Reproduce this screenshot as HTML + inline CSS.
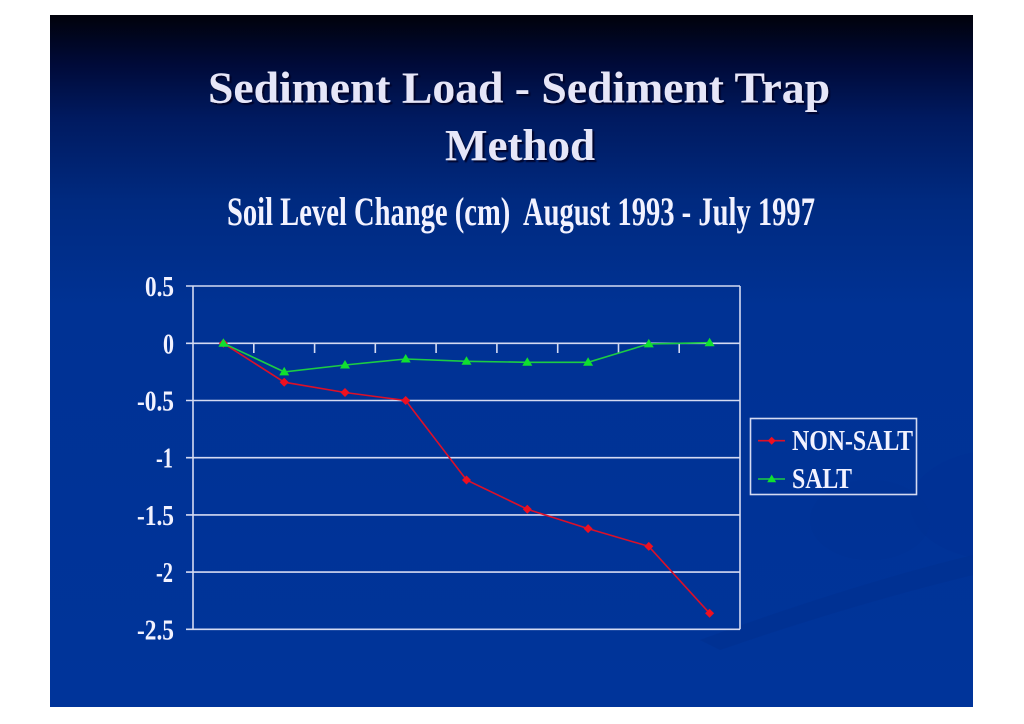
<!DOCTYPE html>
<html>
<head>
<meta charset="utf-8">
<style>
html,body{margin:0;padding:0;background:#ffffff;}
svg{display:block;}
</style>
</head>
<body>
<svg width="1024" height="724" viewBox="0 0 1024 724" xmlns="http://www.w3.org/2000/svg">
  <defs>
    <linearGradient id="bg" x1="0" y1="15" x2="0" y2="707" gradientUnits="userSpaceOnUse">
      <stop offset="0" stop-color="#01020b"/>
      <stop offset="0.07" stop-color="#000a38"/>
      <stop offset="0.15" stop-color="#001a60"/>
      <stop offset="0.27" stop-color="#002a80"/>
      <stop offset="0.42" stop-color="#003294"/>
      <stop offset="1" stop-color="#00349a"/>
    </linearGradient>
    <clipPath id="slideclip">
      <rect x="50" y="15" width="923" height="692"/>
    </clipPath>
    <filter id="sh" x="-5%" y="-20%" width="110%" height="140%">
      <feDropShadow dx="2" dy="2" stdDeviation="0.6" flood-color="#050520" flood-opacity="0.9"/>
    </filter>
  </defs>

  <!-- slide -->
  <rect x="50" y="15" width="923" height="692" fill="url(#bg)"/>
  <!-- subtle swooshes -->
  <g clip-path="url(#slideclip)">
    <path d="M700 640 Q850 585 973 555 L973 575 Q850 605 720 650 Z" fill="#00308f" opacity="0.6"/>
    <ellipse cx="1000" cy="505" rx="90" ry="55" fill="#003194" opacity="0.6"/>
    <ellipse cx="870" cy="520" rx="60" ry="40" fill="#003194" opacity="0.5"/>
  </g>

  <!-- titles -->
  <g font-family="'Liberation Serif', serif" font-weight="bold" fill="#e6e6f8" filter="url(#sh)">
    <text x="208" y="102.5" font-size="44" textLength="622" lengthAdjust="spacingAndGlyphs">Sediment Load - Sediment Trap</text>
    <text x="445" y="160" font-size="44" textLength="150" lengthAdjust="spacingAndGlyphs">Method</text>
  </g>
  <text x="227" y="225" font-family="'Liberation Serif', serif" font-weight="bold" font-size="40" fill="#f2f2ff" xml:space="preserve" textLength="588" lengthAdjust="spacingAndGlyphs">Soil Level Change (cm)  August 1993 - July 1997</text>

  <!-- plot area grid/axes -->
  <g stroke="#d4daf2" stroke-width="1.6" fill="none">
    <line x1="186" y1="286" x2="740" y2="286"/>
    <line x1="186" y1="343.3" x2="740" y2="343.3"/>
    <line x1="186" y1="400.5" x2="740" y2="400.5"/>
    <line x1="186" y1="457.7" x2="740" y2="457.7"/>
    <line x1="186" y1="514.9" x2="740" y2="514.9"/>
    <line x1="186" y1="572.1" x2="740" y2="572.1"/>
    <line x1="186" y1="629.3" x2="740" y2="629.3"/>
    <line x1="193" y1="286" x2="193" y2="629.3"/>
    <line x1="740" y1="286" x2="740" y2="629.3"/>
    <!-- category ticks -->
    <line x1="253.8" y1="343.3" x2="253.8" y2="353"/>
    <line x1="314.6" y1="343.3" x2="314.6" y2="353"/>
    <line x1="375.3" y1="343.3" x2="375.3" y2="353"/>
    <line x1="436.1" y1="343.3" x2="436.1" y2="353"/>
    <line x1="496.9" y1="343.3" x2="496.9" y2="353"/>
    <line x1="557.7" y1="343.3" x2="557.7" y2="353"/>
    <line x1="618.5" y1="343.3" x2="618.5" y2="353"/>
    <line x1="679.2" y1="343.3" x2="679.2" y2="353"/>
  </g>

  <!-- y labels -->
  <g font-family="'Liberation Serif', serif" font-weight="bold" font-size="28" fill="#f2f2ff" text-anchor="end">
    <text x="174" y="296" textLength="29" lengthAdjust="spacingAndGlyphs">0.5</text>
    <text x="174" y="353.3" textLength="11" lengthAdjust="spacingAndGlyphs">0</text>
    <text x="174" y="410.5" textLength="37" lengthAdjust="spacingAndGlyphs">-0.5</text>
    <text x="173" y="467.7" textLength="17" lengthAdjust="spacingAndGlyphs">-1</text>
    <text x="174" y="524.9" textLength="37" lengthAdjust="spacingAndGlyphs">-1.5</text>
    <text x="173" y="582.1" textLength="17" lengthAdjust="spacingAndGlyphs">-2</text>
    <text x="174" y="639.3" textLength="37" lengthAdjust="spacingAndGlyphs">-2.5</text>
  </g>

  <!-- NON-SALT series -->
  <polyline fill="none" stroke="#dc1028" stroke-width="1.6"
    points="223.4,343.3 284.2,382.2 345.0,392.5 405.7,400.5 466.5,480.0 527.3,509.2 588.1,528.6 648.8,546.4 709.6,613.3"/>
  <g fill="#ee1020">
    <path d="M223.4 338.8 L227.9 343.3 L223.4 347.8 L218.9 343.3 Z"/>
    <path d="M284.2 377.7 L288.7 382.2 L284.2 386.7 L279.7 382.2 Z"/>
    <path d="M345.0 388.0 L349.5 392.5 L345.0 397.0 L340.5 392.5 Z"/>
    <path d="M405.7 396.0 L410.2 400.5 L405.7 405.0 L401.2 400.5 Z"/>
    <path d="M466.5 475.5 L471.0 480.0 L466.5 484.5 L462.0 480.0 Z"/>
    <path d="M527.3 504.7 L531.8 509.2 L527.3 513.7 L522.8 509.2 Z"/>
    <path d="M588.1 524.1 L592.6 528.6 L588.1 533.1 L583.6 528.6 Z"/>
    <path d="M648.8 541.9 L653.3 546.4 L648.8 550.9 L644.3 546.4 Z"/>
    <path d="M709.6 608.8 L714.1 613.3 L709.6 617.8 L705.1 613.3 Z"/>
  </g>

  <!-- SALT series -->
  <polyline fill="none" stroke="#1ccc44" stroke-width="1.6"
    points="223.4,343.3 284.2,371.9 345.0,365.0 405.7,359.0 466.5,361.3 527.3,362.3 588.1,362.3 648.8,343.9 709.6,342.7"/>
  <g fill="#10e030">
    <path d="M223.4 338.3 L228.4 346.8 L218.4 346.8 Z"/>
    <path d="M284.2 366.9 L289.2 375.4 L279.2 375.4 Z"/>
    <path d="M345.0 360.0 L350.0 368.5 L340.0 368.5 Z"/>
    <path d="M405.7 354.0 L410.7 362.5 L400.7 362.5 Z"/>
    <path d="M466.5 356.3 L471.5 364.8 L461.5 364.8 Z"/>
    <path d="M527.3 357.3 L532.3 365.8 L522.3 365.8 Z"/>
    <path d="M588.1 357.3 L593.1 365.8 L583.1 365.8 Z"/>
    <path d="M648.8 338.9 L653.8 347.4 L643.8 347.4 Z"/>
    <path d="M709.6 337.7 L714.6 346.2 L704.6 346.2 Z"/>
  </g>

  <!-- legend -->
  <rect x="750.5" y="418.5" width="166" height="76" fill="none" stroke="#d4daf2" stroke-width="1.6"/>
  <line x1="758" y1="440.7" x2="785" y2="440.7" stroke="#dc1028" stroke-width="1.6"/>
  <path d="M771.7 436.7 L775.7 440.7 L771.7 444.7 L767.7 440.7 Z" fill="#ee1020"/>
  <line x1="758" y1="479" x2="785" y2="479" stroke="#1ccc44" stroke-width="1.6"/>
  <path d="M771.7 474.5 L776.2 482.3 L767.2 482.3 Z" fill="#10e030"/>
  <g font-family="'Liberation Serif', serif" font-weight="bold" font-size="28" fill="#f2f2ff">
    <text x="792" y="450" textLength="121" lengthAdjust="spacingAndGlyphs">NON-SALT</text>
    <text x="792" y="488" textLength="60" lengthAdjust="spacingAndGlyphs">SALT</text>
  </g>
</svg>
</body>
</html>
